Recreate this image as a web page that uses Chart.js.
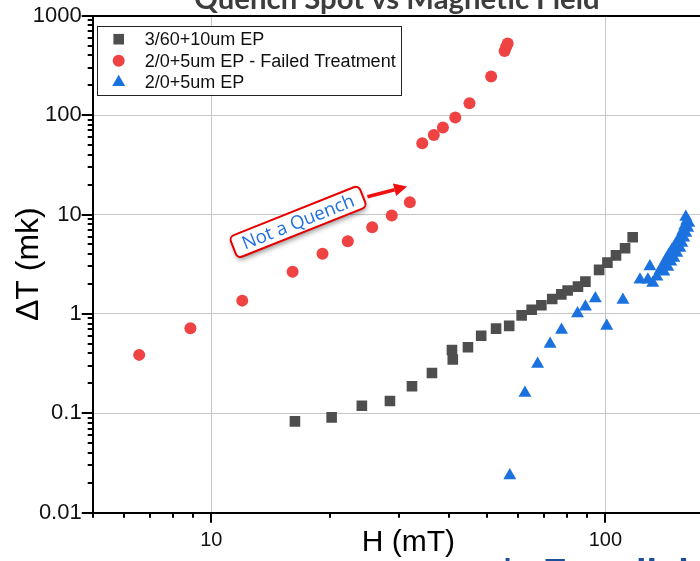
<!DOCTYPE html>
<html>
<head>
<meta charset="utf-8">
<script src="https://cdn.jsdelivr.net/npm/chart.js@4/dist/chart.umd.min.js"></script>
<style>
  html, body { margin: 0; padding: 0; background: #fff; overflow: hidden; }
  #wrap { position: relative; width: 700px; height: 561px; overflow: hidden; }
  canvas { display: block; }
</style>
</head>
<body>
<div id="wrap"><canvas id="quench" width="740" height="561"></canvas></div>
<script>
// Series names
const seriesNames = ['3/60+10um EP', '2/0+5um EP - Failed Treatment', '2/0+5um EP'];

// 3/60+10um EP
const epA_H  = [16.3, 20.2, 24.1, 28.4, 32.3, 36.3, 40.8, 41.0, 44.8, 48.4, 52.8, 57.0, 61.3,
                65.0, 68.8, 73.3, 77.3, 80.2, 85.2, 89.0, 96.4, 101.2, 106.4, 112.2, 117.3];
const epA_dT = [0.083, 0.091, 0.119, 0.133, 0.187, 0.254, 0.434, 0.348, 0.462, 0.603, 0.711, 0.757, 0.966,
                1.10, 1.22, 1.41, 1.57, 1.72, 1.88, 2.11, 2.77, 3.28, 3.88, 4.58, 5.91];

// 2/0+5um EP - Failed Treatment
const failed_H  = [6.56, 8.85, 11.98, 16.08, 19.15, 22.2, 25.6, 28.7, 31.9,
                   34.3, 36.7, 38.7, 41.6, 45.2, 51.3, 55.5, 56.0, 56.5];
const failed_dT = [0.387, 0.718, 1.36, 2.66, 4.02, 5.39, 7.45, 9.75, 13.3,
                   52.2, 63.2, 75.2, 94.8, 131.8, 244, 442, 485, 526];

// 2/0+5um EP
const epB_H  = [57.2, 62.5, 67.3, 72.4, 77.4, 85.0, 89.0, 94.3, 100.8, 110.8,
                122.4, 128.2, 129.7, 131.9, 135.1, 137.5, 139.9, 140.7, 142.4, 144.0,
                144.9, 146.6, 147.5, 149.2, 150.1, 151.8, 152.7, 154.5, 155.4, 156.3,
                157.2, 158.1, 159.0, 160.0, 160.0, 160.9, 161.8, 162.8];
const epB_dT = [0.0237, 0.160, 0.314, 0.499, 0.690, 1.01, 1.18, 1.43, 0.757, 1.38,
                2.20, 2.20, 3.00, 2.05, 2.36, 2.71, 3.04, 2.65, 3.49, 2.97,
                3.92, 3.34, 4.40, 3.66, 4.83, 4.11, 5.43, 4.61, 6.09, 5.18,
                6.84, 5.82, 7.68, 9.46, 6.53, 8.62, 7.33, 8.23];

// Axis ranges and labelled decades
const xRange = [5, 200];
const yRange = [0.01, 1000];
const xTickLabels = [10, 100];
const yTickLabels = [0.01, 0.1, 1, 10, 100, 1000];

const toPoints = (xs, ys) => xs.map((v, i) => ({ x: v, y: ys[i] }));
const isDecade = v => Math.abs(Math.log10(v) - Math.round(Math.log10(v))) < 1e-9;

// major + minor tick values (1..9 x 10^n) inside a range
function logTicks([lo, hi]) {
  const out = [];
  for (let e = Math.floor(Math.log10(lo)); e <= Math.ceil(Math.log10(hi)); e++) {
    for (let m = 1; m <= 9; m++) {
      const v = +(m * Math.pow(10, e)).toPrecision(6);
      if (v >= lo - 1e-12 && v <= hi + 1e-12) out.push(v);
    }
  }
  return out;
}

const COLORS = { sq: '#4e4e4e', red: '#ef4242', blue: '#1b72df' };

// Outward tick marks: long at decades, short at minors
const tickMarks = {
  id: 'tickMarks',
  afterDraw(chart) {
    const { ctx, chartArea, scales: { x, y } } = chart;
    ctx.save();
    ctx.strokeStyle = '#000';
    ctx.lineWidth = 2;
    ctx.beginPath();
    for (const t of x.ticks) {
      const px = Math.round(x.getPixelForValue(t.value));
      const len = isDecade(t.value) ? 10 : 5;
      ctx.moveTo(px, chartArea.bottom);
      ctx.lineTo(px, chartArea.bottom + len);
    }
    for (const t of y.ticks) {
      const py = Math.round(y.getPixelForValue(t.value));
      const len = isDecade(t.value) ? 11 : 5;
      ctx.moveTo(chartArea.left, py);
      ctx.lineTo(chartArea.left - len, py);
    }
    ctx.stroke();
    ctx.restore();
  }
};

// Boxed legend in the upper-left corner of the plot
const boxLegend = {
  id: 'boxLegend',
  afterDatasetsDraw(chart) {
    const { ctx, chartArea } = chart;
    const left = chartArea.left + 4, top = chartArea.top + 10;
    const w = 304, rowH = 21.5;
    ctx.save();
    ctx.fillStyle = '#fff';
    ctx.fillRect(left, top, w, 69);
    ctx.strokeStyle = '#222';
    ctx.lineWidth = 1;
    ctx.strokeRect(Math.round(left) + 0.5, Math.round(top) + 0.5, w, 69);
    ctx.font = '18px "Liberation Sans", Arial, sans-serif';
    ctx.textBaseline = 'middle';
    chart.data.datasets.forEach((ds, i) => {
      const cy = top + 13.5 + i * rowH;
      ctx.fillStyle = ds.backgroundColor;
      Chart.helpers.drawPoint(ctx, {
        pointStyle: ds.pointStyle, radius: ds.pointRadius, rotation: 0, borderWidth: 0
      }, left + 22, cy);
      ctx.fillStyle = '#111';
      ctx.fillText(ds.label, left + 48, cy + 1);
    });
    ctx.restore();
  }
};

// "Not a Quench" call-out with arrow, anchored in data coordinates
const noteCallout = {
  id: 'noteCallout',
  afterDatasetsDraw(chart, args, opts) {
    const { ctx, scales: { x, y } } = chart;
    const cx = x.getPixelForValue(opts.at[0]), cy = y.getPixelForValue(opts.at[1]);
    ctx.save();
    // arrow
    const ax0 = x.getPixelForValue(opts.from[0]), ay0 = y.getPixelForValue(opts.from[1]);
    const ax1 = x.getPixelForValue(opts.to[0]),   ay1 = y.getPixelForValue(opts.to[1]);
    const ang = Math.atan2(ay1 - ay0, ax1 - ax0);
    const headL = 13, headW = 6.5;
    const bx = ax1 - headL * Math.cos(ang), by = ay1 - headL * Math.sin(ang);
    ctx.strokeStyle = '#f01010';
    ctx.fillStyle = '#f01010';
    ctx.lineWidth = 3.5;
    ctx.beginPath(); ctx.moveTo(ax0, ay0); ctx.lineTo(bx, by); ctx.stroke();
    ctx.beginPath();
    ctx.moveTo(ax1, ay1);
    ctx.lineTo(bx + headW * Math.sin(ang), by - headW * Math.cos(ang));
    ctx.lineTo(bx - headW * Math.sin(ang), by + headW * Math.cos(ang));
    ctx.closePath(); ctx.fill();
    // box
    ctx.font = '18.5px "Open Sans", sans-serif';
    const tw = ctx.measureText(opts.text).width;
    const bw = tw + 20, bh = 23;
    ctx.translate(cx, cy);
    ctx.rotate(opts.angle * Math.PI / 180);
    ctx.shadowColor = 'rgba(0,0,0,0.4)';
    ctx.shadowBlur = 5;
    ctx.shadowOffsetX = 1;
    ctx.shadowOffsetY = 3;
    ctx.fillStyle = '#fff';
    ctx.beginPath(); ctx.roundRect(-bw / 2, -bh / 2, bw, bh, 5); ctx.fill();
    ctx.shadowColor = 'transparent';
    ctx.strokeStyle = '#e80000';
    ctx.lineWidth = 2;
    ctx.stroke();
    ctx.fillStyle = '#1f6fe5';
    ctx.textAlign = 'center';
    ctx.textBaseline = 'middle';
    ctx.fillText(opts.text, 0, 1);
    ctx.restore();
  }
};

// Title and footer logo text
const pageText = {
  id: 'pageText',
  afterDraw(chart) {
    const { ctx } = chart;
    ctx.save();
    const title = 'Quench Spot vs Magnetic Field';
    ctx.font = 'bold 26px Lato, sans-serif';
    const size = 26 * 405 / ctx.measureText(title).width;
    ctx.font = `bold ${size.toFixed(1)}px Lato, sans-serif`;
    ctx.fillStyle = '#3d3d3d';
    ctx.textAlign = 'center';
    ctx.textBaseline = 'alphabetic';
    ctx.fillText(title, 397, 9);

    ctx.fillStyle = '#1d4f9b';
    ctx.textAlign = 'left';
    ctx.font = 'bold 38px "Liberation Sans", Arial, sans-serif';
    ctx.fillText('\u2021', 497, 586);
    ctx.fillText('Fermilab', 543, 586);
    ctx.restore();
  }
};

const axisFont = { family: '"Liberation Sans", Arial, sans-serif' };

new Chart(document.getElementById('quench'), {
  type: 'scatter',
  data: {
    datasets: [
      { label: seriesNames[0], data: toPoints(epA_H, epA_dT), pointStyle: 'rect',
        pointRadius: 7.5, backgroundColor: COLORS.sq, borderWidth: 0, pointBorderWidth: 0 },
      { label: seriesNames[1], data: toPoints(failed_H, failed_dT), pointStyle: 'circle',
        pointRadius: 6, backgroundColor: COLORS.red, borderWidth: 0, pointBorderWidth: 0 },
      { label: seriesNames[2], data: toPoints(epB_H, epB_dT), pointStyle: 'triangle',
        pointRadius: 7.5, backgroundColor: COLORS.blue, borderWidth: 0, pointBorderWidth: 0 }
    ]
  },
  options: {
    responsive: false,
    animation: false,
    devicePixelRatio: 1,
    events: [],
    layout: { padding: { top: 15.7, right: 13.6, left: 0, bottom: 0 } },
    plugins: {
      legend: { display: false },
      tooltip: { enabled: false },
      noteCallout: { text: 'Not a Quench', at: [16.6, 8.43], angle: -21.8,
                     from: [24.9, 15.1], to: [31.4, 19.1] }
    },
    scales: {
      x: {
        type: 'logarithmic',
        min: xRange[0], max: xRange[1],
        afterBuildTicks: s => { s.ticks = logTicks(xRange).map(v => ({ value: v })); },
        afterFit: s => { s.height = 48.3; },
        ticks: {
          autoSkip: false, maxRotation: 0, padding: 16,
          color: '#111', font: { ...axisFont, size: 20 },
          callback: v => xTickLabels.some(t => Math.abs(t - v) < 1e-9) ? String(v) : ''
        },
        grid: {
          drawTicks: false,
          color: c => (c.tick && isDecade(c.tick.value) && c.tick.value > xRange[0] && c.tick.value < xRange[1]) ? '#c6c6c6' : 'rgba(0,0,0,0)',
          lineWidth: 1
        },
        border: { display: true, color: '#000', width: 2 },
        title: { display: true, text: 'H (mT)', color: '#000',
                 font: { ...axisFont, size: 30 }, padding: { top: 0, bottom: 0 } }
      },
      y: {
        type: 'logarithmic',
        min: yRange[0], max: yRange[1],
        afterBuildTicks: s => { s.ticks = logTicks(yRange).map(v => ({ value: v })); },
        afterFit: s => { s.width = 92.7; },
        ticks: {
          autoSkip: false, padding: 11,
          color: '#111', font: { ...axisFont, size: 22, lineHeight: 0.4 },
          callback: v => yTickLabels.some(t => Math.abs(t - v) < 1e-12) ? String(v) : ''
        },
        grid: {
          drawTicks: false,
          color: c => {
            if (!c.tick) return 'rgba(0,0,0,0)';
            const v = c.tick.value;
            if (Math.abs(v - yRange[1]) < 1e-9) return '#000';
            return (isDecade(v) && v > yRange[0]) ? '#c6c6c6' : 'rgba(0,0,0,0)';
          },
          lineWidth: c => (c.tick && Math.abs(c.tick.value - yRange[1]) < 1e-9) ? 2 : 1
        },
        border: { display: true, color: '#000', width: 2 },
        title: { display: true, text: '\u0394T (mk)', color: '#000',
                 font: { ...axisFont, size: 32 }, padding: { top: 10, bottom: 0 } }
      }
    }
  },
  plugins: [tickMarks, noteCallout, boxLegend, pageText]
});
</script>
</body>
</html>
